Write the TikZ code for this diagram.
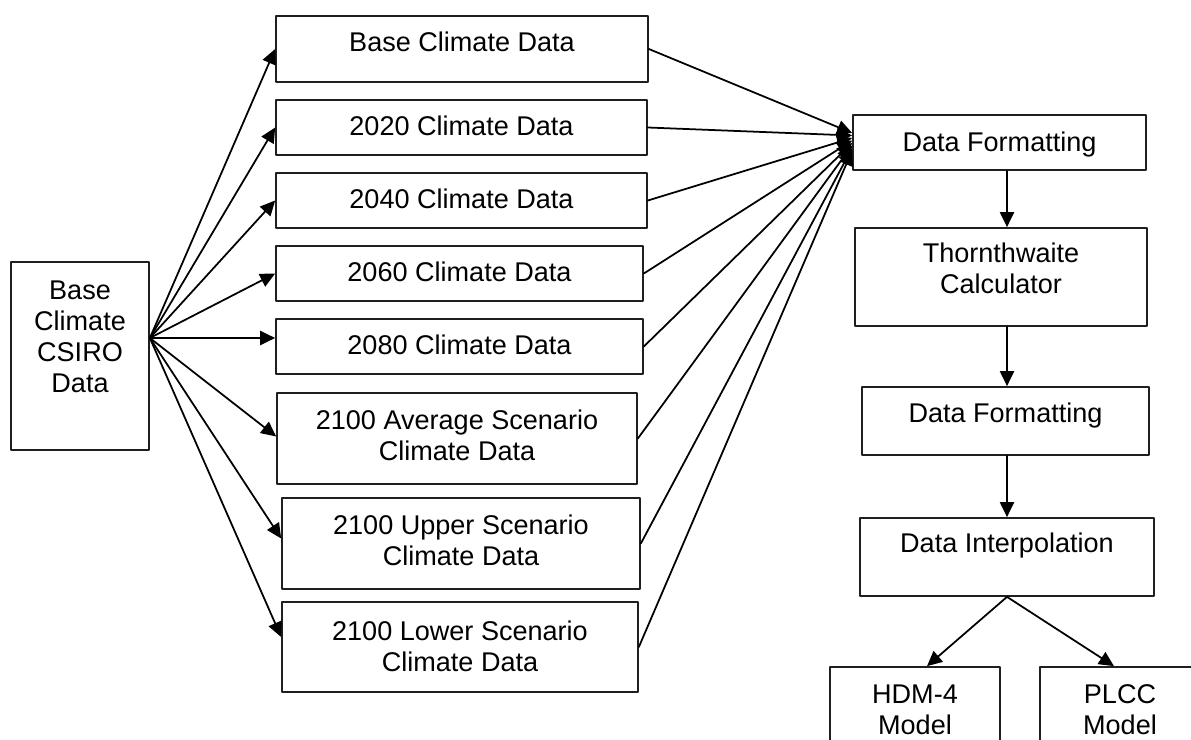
\documentclass[tikz,border=0pt]{standalone}
\usepackage{fontspec}
\setmainfont{Liberation Sans}
\usepackage{tikz}
\usetikzlibrary{arrows.meta,positioning,calc}
\definecolor{qqqqqq}{rgb}{0.12,0.12,0.12}

\begin{document}
\begin{tikzpicture}[line cap=round,line join=round,>={Triangle[length=8.5pt,width=8pt]},x=0.02cm,y=0.02cm,
  box/.style={draw=qqqqqq,line width=1pt,inner sep=0pt},
  txt/.style={align=center,inner sep=0pt,font=\fontsize{15.4}{17.7}\selectfont},
  arr/.style={->,line width=1pt}]

\useasboundingbox (0,0) rectangle (1191,-740);
\clip (0,0) rectangle (1191,-740);

% source data
\node[box,minimum width=2.76cm,minimum height=3.76cm] (src) at (80,-356) {};
\node[txt,below=0.38cm of src.north] (src-t) {Base\\Climate\\CSIRO\\Data};

% climate data sets
\node[box,minimum width=7.44cm,minimum height=1.32cm] (base) at (462,-49) {};
\node[box,minimum width=7.42cm,minimum height=1.10cm] (y2020) at (461.5,-127.5) {};
\node[box,minimum width=7.42cm,minimum height=1.10cm] (y2040) at (461.5,-200.5) {};
\node[box,minimum width=7.34cm,minimum height=1.10cm] (y2060) at (459.5,-273.5) {};
\node[box,minimum width=7.34cm,minimum height=1.10cm] (y2080) at (459.5,-346.5) {};
\node[box,minimum width=7.20cm,minimum height=1.82cm] (avg) at (457,-438.5) {};
\node[box,minimum width=7.16cm,minimum height=1.82cm] (upper) at (461,-543.5) {};
\node[box,minimum width=7.12cm,minimum height=1.80cm] (lower) at (460,-647) {};

\node[txt,below=0.32cm of base.north] (base-t) {Base Climate Data};
\node[txt,below=0.32cm of y2020.north] (y2020-t) {2020 Climate Data};
\node[txt,below=0.32cm of y2040.north] (y2040-t) {2040 Climate Data};
\node[txt,below=0.32cm of y2060.north] (y2060-t) {2060 Climate Data};
\node[txt,below=0.32cm of y2080.north] (y2080-t) {2080 Climate Data};
\node[txt,below=0.34cm of avg.north] (avg-t) {2100 Average Scenario\\Climate Data};
\node[txt,below=0.34cm of upper.north] (upper-t) {2100 Upper Scenario\\Climate Data};
\node[txt,below=0.38cm of lower.north] (lower-t) {2100 Lower Scenario\\Climate Data};

% processing chain
\node[box,minimum width=5.86cm,minimum height=1.10cm] (df1) at (999.5,-142.5) {};
\node[box,minimum width=5.84cm,minimum height=1.96cm] (thorn) at (1001,-277) {};
\node[box,minimum width=5.74cm,minimum height=1.36cm] (df2) at (1005.5,-421) {};
\node[box,minimum width=5.88cm,minimum height=1.56cm] (interp) at (1007,-557) {};
\node[box,minimum width=3.40cm,minimum height=2.20cm] (hdm) at (915,-722) {};
\node[box,minimum width=3.20cm,minimum height=2.20cm] (plcc) at (1120,-722) {};

\node[txt,below=0.34cm of df1.north] (df1-t) {Data Formatting};
\node[txt,below=0.30cm of thorn.north] (thorn-t) {Thornthwaite\\Calculator};
\node[txt,below=0.32cm of df2.north] (df2-t) {Data Formatting};
\node[txt,below=0.30cm of interp.north] (interp-t) {Data Interpolation};
\node[txt,below=0.36cm of hdm.north] (hdm-t) {HDM-4\\Model};
\node[txt,below=0.36cm of plcc.north] (plcc-t) {PLCC\\Model};

% fan out from the source
\coordinate[above=0.36cm of src.east] (fan);
\foreach \b/\dy in {base/0,y2020/0,y2040/0,y2060/0,y2080/8.5,avg/2,upper/5,lower/10}
  \draw[arr] (fan) -- ($(\b.west)+(0,\dy)$);

% fan in to the formatting step
\foreach \b [count=\i] in {base,y2020,y2040,y2060,y2080,avg,upper,lower}
  \draw[arr] (\b.east) -- ($(df1.west)+(0,{12-2.5*\i})$);

\draw[arr] (df1.south -| interp) -- (thorn.north -| interp);
\draw[arr] (thorn.south -| interp) -- (df2.north -| interp);
\draw[arr] (df2.south -| interp) -- (interp.north);
\draw[arr] (interp.south) -- ($(hdm.north)+(12,0)$);
\draw[arr] (interp.south) -- ($(plcc.north)+(-6,0)$);

\end{tikzpicture}
\end{document}
